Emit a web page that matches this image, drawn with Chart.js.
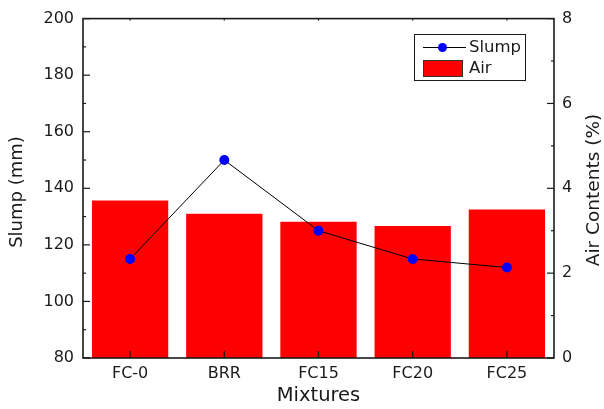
<!DOCTYPE html>
<html>
<head>
<meta charset="utf-8">
<script src="https://cdn.jsdelivr.net/npm/chart.js@4"></script>
<style>
  html, body { margin: 0; padding: 0; background: #fff; }
  #wrap { width: 604px; height: 409px; }
</style>
</head>
<body>
<div id="wrap"><canvas id="chart" width="604" height="409"></canvas></div>
<script>
"use strict";

// data
const categories = ['FC-0', 'BRR', 'FC15', 'FC20', 'FC25'];
const slump = [115, 150, 125, 115, 112];        // mm, left axis
const airContent = [3.71, 3.40, 3.21, 3.11, 3.50]; // %, right axis
const slumpRange = { min: 80, max: 200, step: 20 };
const airRange = { min: 0, max: 8, step: 2 };

const FONT = 'DejaVu Sans';
const INK = '#1a1a1a';

// vertical text helper (rotated -90, reads bottom to top)
function vText(ctx, text, x, y) {
    ctx.save();
    ctx.translate(x, y);
    ctx.rotate(-Math.PI / 2);
    ctx.fillText(text, 0, 0);
    ctx.restore();
}

// frame, inward ticks, y titles and legend
const decorations = {
    id: 'decorations',
    afterDraw(chart) {
        const { ctx, chartArea: a, scales } = chart;
        ctx.save();
        ctx.strokeStyle = INK;

        // ticks pointing into the plot
        ctx.lineWidth = 1.2;
        const yTicks = (scale, x, dir) => {
            const vals = scale.ticks.map((t) => t.value);
            vals.forEach((v, i) => {
                const py = scale.getPixelForValue(v);
                ctx.beginPath(); ctx.moveTo(x, py); ctx.lineTo(x + dir * 7, py); ctx.stroke();
                if (i < vals.length - 1) {
                    const pm = scale.getPixelForValue((v + vals[i + 1]) / 2);
                    ctx.beginPath(); ctx.moveTo(x, pm); ctx.lineTo(x + dir * 3, pm); ctx.stroke();
                }
            });
        };
        yTicks(scales.y, a.left, 1);
        yTicks(scales.y1, a.right, -1);
        categories.forEach((c, i) => {
            const px = scales.x.getPixelForValue(i);
            ctx.beginPath(); ctx.moveTo(px, a.bottom); ctx.lineTo(px, a.bottom - 7); ctx.stroke();
            ctx.beginPath(); ctx.moveTo(px, a.top); ctx.lineTo(px, a.top + 2); ctx.stroke();
        });

        // frame
        ctx.lineWidth = 1.6;
        ctx.strokeRect(a.left, a.top, a.right - a.left, a.bottom - a.top);

        // y axis titles
        ctx.fillStyle = INK;
        ctx.font = `18px "${FONT}"`;
        ctx.textAlign = 'center';
        ctx.textBaseline = 'middle';
        vText(ctx, 'Slump (mm)', 17, 192);
        ctx.font = `18.5px "${FONT}"`;
        vText(ctx, 'Air Contents (%)', 594, 190);

        // legend box
        const ds = chart.data.datasets;
        const bx = 414.5, by = 34.5, bw = 111, bh = 46;
        ctx.fillStyle = '#fff';
        ctx.fillRect(bx, by, bw, bh);
        ctx.lineWidth = 1;
        ctx.strokeStyle = INK;
        ctx.strokeRect(bx, by, bw, bh);

        const lineDs = ds[0], barDs = ds[1];
        const r1 = 47.5, r2 = 69;
        ctx.beginPath(); ctx.moveTo(423, r1); ctx.lineTo(466, r1);
        ctx.strokeStyle = lineDs.borderColor; ctx.stroke();
        ctx.beginPath(); ctx.arc(442.5, r1, 4.5, 0, Math.PI * 2);
        ctx.fillStyle = lineDs.pointBackgroundColor; ctx.fill();

        ctx.fillStyle = barDs.backgroundColor;
        ctx.fillRect(423.5, 60.5, 39, 16);
        ctx.strokeStyle = '#333'; ctx.strokeRect(423.5, 60.5, 39, 16);

        ctx.fillStyle = INK;
        ctx.font = `16.5px "${FONT}"`;
        ctx.textAlign = 'left';
        ctx.fillText(lineDs.label, 469, r1 + 0.5);
        ctx.fillText(barDs.label, 469, r2);
        ctx.restore();
    }
};

new Chart(document.getElementById('chart'), {
    data: {
        labels: categories,
        datasets: [
            {
                type: 'line',
                label: 'Slump',
                data: slump,
                yAxisID: 'y',
                borderColor: '#000',
                borderWidth: 1,
                pointBackgroundColor: '#0000ff',
                pointBorderColor: '#0000ff',
                pointBorderWidth: 0,
                pointRadius: 5,
                tension: 0,
                order: 0
            },
            {
                type: 'bar',
                label: 'Air',
                data: airContent,
                yAxisID: 'y1',
                backgroundColor: '#ff0000',
                borderWidth: 0,
                categoryPercentage: 1,
                barPercentage: 0.81,
                order: 1
            }
        ]
    },
    options: {
        responsive: false,
        animation: false,
        events: [],
        layout: { padding: { top: 16, right: 0, left: 0, bottom: 0 } },
        plugins: { legend: { display: false }, tooltip: { enabled: false } },
        scales: {
            x: {
                offset: true,
                grid: { display: false, drawTicks: false },
                border: { display: false },
                ticks: { color: INK, font: { family: FONT, size: 16 }, padding: 6, maxRotation: 0 },
                title: { display: true, text: 'Mixtures', color: INK,
                         font: { family: FONT, size: 19.5 }, padding: { top: 0, bottom: 1 } },
                afterFit: (s) => { s.height = 51; }
            },
            y: {
                position: 'left',
                min: slumpRange.min, max: slumpRange.max,
                grid: { display: false, drawTicks: false },
                border: { display: false },
                ticks: { stepSize: slumpRange.step, color: INK, font: { family: FONT, size: 16 }, padding: 9 },
                afterFit: (s) => { s.width = 83; }
            },
            y1: {
                position: 'right',
                min: airRange.min, max: airRange.max,
                grid: { display: false, drawTicks: false },
                border: { display: false },
                ticks: { stepSize: airRange.step, color: INK, font: { family: FONT, size: 16 }, padding: 8 },
                afterFit: (s) => { s.width = 50; }
            }
        }
    },
    plugins: [decorations]
});
</script>
</body>
</html>
